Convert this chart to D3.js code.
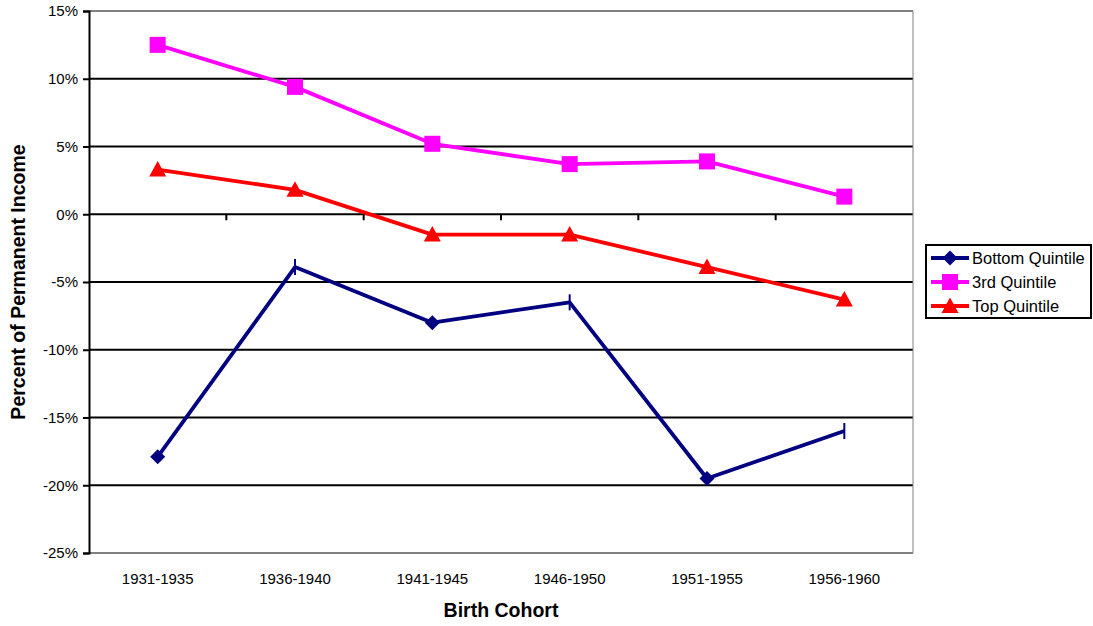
<!DOCTYPE html>
<html>
<head>
<meta charset="utf-8">
<script src="https://cdn.jsdelivr.net/npm/d3@7"></script>
<style>
  html, body { margin: 0; padding: 0; background: #fff; }
  svg { display: block; font-family: "Liberation Sans", Arial, sans-serif; }
</style>
</head>
<body>
<svg id="chart" width="1093" height="626"></svg>
<script>
// Birth cohorts along the x axis
const cohorts = ["1931-1935", "1936-1940", "1941-1945", "1946-1950", "1951-1955", "1956-1960"];

// Percent of permanent income, by income quintile
const bottomQuintile = [-17.9, -3.9, -8.0, -6.5, -19.5, -16.0];
const thirdQuintile  = [12.5, 9.4, 5.2, 3.7, 3.9, 1.3];
const topQuintile    = [3.3, 1.8, -1.5, -1.5, -3.9, -6.3];

// Marker drawn at each bottom-quintile point
const bottomMarkers = ["diamond", "tick", "diamond", "tick", "diamond", "tick"];

const yTicks = [15, 10, 5, 0, -5, -10, -15, -20, -25];

const seriesList = [
  { name: "Bottom Quintile", values: bottomQuintile, color: "#000080", marker: "diamond", markers: bottomMarkers },
  { name: "3rd Quintile",    values: thirdQuintile,  color: "#FF00FF", marker: "square" },
  { name: "Top Quintile",    values: topQuintile,    color: "#FF0000", marker: "triangle" }
];

const svg = d3.select("#chart");
const plot = { left: 89, right: 913, top: 11, bottom: 553 };

const x = d3.scaleBand().domain(cohorts).range([plot.left, plot.right]);
const y = d3.scaleLinear().domain([-25, 15]).range([plot.bottom, plot.top]);
const cx = c => x(c) + x.bandwidth() / 2;

// Horizontal gridlines
svg.append("g").selectAll("line")
  .data(yTicks)
  .join("line")
  .attr("x1", plot.left).attr("x2", plot.right)
  .attr("y1", d => y(d)).attr("y2", d => y(d))
  .attr("stroke", d => (d === 15 || d === -25) ? "#808080" : "#000")
  .attr("stroke-width", 2);

// Right border of the plot area
svg.append("line")
  .attr("x1", plot.right).attr("x2", plot.right)
  .attr("y1", plot.top).attr("y2", plot.bottom)
  .attr("stroke", "#808080").attr("stroke-width", 1);

// Y axis
const yAxis = svg.append("g")
  .attr("transform", `translate(${plot.left},0)`)
  .call(d3.axisLeft(y).tickValues(yTicks).tickSize(6).tickPadding(5).tickFormat(d => d + "%"));
yAxis.select(".domain").attr("stroke", "#000").attr("stroke-width", 2);
yAxis.selectAll(".tick line").attr("stroke", "#000").attr("stroke-width", 2);
yAxis.selectAll(".tick text").attr("font-size", 15).attr("fill", "#000")
  .attr("font-family", "Liberation Sans, Arial, sans-serif");

// Category axis crossing at zero: tick marks between cohorts
const between = d3.range(1, cohorts.length).map(i => plot.left + i * x.step());
svg.append("g").selectAll("line")
  .data(between)
  .join("line")
  .attr("x1", d => d).attr("x2", d => d)
  .attr("y1", y(0)).attr("y2", y(0) + 6)
  .attr("stroke", "#000").attr("stroke-width", 2);

// Category labels along the bottom
svg.append("g").selectAll("text")
  .data(cohorts)
  .join("text")
  .attr("x", d => cx(d))
  .attr("y", 584)
  .attr("text-anchor", "middle")
  .attr("font-size", 15)
  .text(d => d);

// Axis titles
svg.append("text")
  .attr("x", 501).attr("y", 617)
  .attr("text-anchor", "middle")
  .attr("font-size", 19.5).attr("font-weight", "bold")
  .text("Birth Cohort");

svg.append("text")
  .attr("transform", "translate(25,282) rotate(-90)")
  .attr("text-anchor", "middle")
  .attr("font-size", 19.5).attr("font-weight", "bold")
  .text("Percent of Permanent Income");

// Marker drawing helper
function drawMarker(g, type, px, py, color) {
  if (type === "diamond") {
    g.append("path")
      .attr("d", `M${px},${py - 7.5}L${px + 7.5},${py}L${px},${py + 7.5}L${px - 7.5},${py}Z`)
      .attr("fill", color);
  } else if (type === "square") {
    g.append("rect")
      .attr("x", px - 8).attr("y", py - 8)
      .attr("width", 16).attr("height", 16)
      .attr("fill", color);
  } else if (type === "triangle") {
    g.append("path")
      .attr("d", `M${px},${py - 8.5}L${px + 8.5},${py + 7}L${px - 8.5},${py + 7}Z`)
      .attr("fill", color);
  } else if (type === "tick") {
    g.append("line")
      .attr("x1", px).attr("x2", px)
      .attr("y1", py - 8).attr("y2", py + 8)
      .attr("stroke", color).attr("stroke-width", 2);
  }
}

// Series lines and markers
const line = d3.line().x(d => cx(d.c)).y(d => y(d.v));
seriesList.forEach(s => {
  const pts = cohorts.map((c, i) => ({ c, v: s.values[i], m: s.markers ? s.markers[i] : s.marker }));
  const g = svg.append("g");
  g.append("path")
    .datum(pts)
    .attr("d", line)
    .attr("fill", "none")
    .attr("stroke", s.color)
    .attr("stroke-width", 3.8)
    .attr("stroke-linejoin", "round");
  pts.forEach(p => drawMarker(g, p.m, cx(p.c), y(p.v), s.color));
});

// Legend
const legend = svg.append("g").attr("transform", "translate(926,245)");
legend.append("rect")
  .attr("x", 0).attr("y", 0)
  .attr("width", 165).attr("height", 73)
  .attr("fill", "#fff").attr("stroke", "#000").attr("stroke-width", 2);
seriesList.forEach((s, i) => {
  const ly = 13 + i * 24;
  const lg = legend.append("g");
  lg.append("line")
    .attr("x1", 5).attr("x2", 43)
    .attr("y1", ly).attr("y2", ly)
    .attr("stroke", s.color).attr("stroke-width", 3.8);
  drawMarker(lg, s.marker, 24, ly, s.color);
  lg.append("text")
    .attr("x", 46).attr("y", ly + 6)
    .attr("font-size", 16.5)
    .text(s.name);
});
</script>
</body>
</html>
